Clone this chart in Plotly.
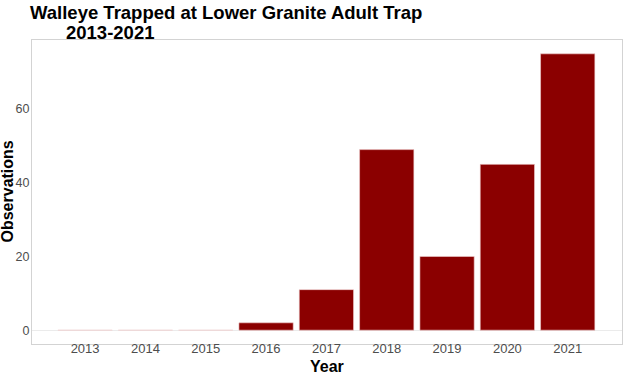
import plotly.graph_objects as go

years = ["2013", "2014", "2015", "2016", "2017", "2018", "2019", "2020", "2021"]
observations = [0, 0, 0, 2, 11, 49, 20, 45, 75]

title_line1 = "Walleye Trapped at Lower Granite Adult Trap"
title_line2 = "2013-2021"

fig = go.Figure()
fig.add_trace(go.Bar(
    x=years, y=observations,
    marker=dict(color="#8B0000", line=dict(color="#f0d0d0", width=0.6)),
    width=0.9,
))

fig.update_layout(
    width=624, height=374,
    margin=dict(l=32, r=2, t=40, b=30),
    paper_bgcolor="white", plot_bgcolor="white",
    showlegend=False,
    font=dict(family="Liberation Sans, Arial, sans-serif"),
    xaxis=dict(
        type="category", range=[-0.88, 8.9], automargin=False,
        showgrid=False, zeroline=False, ticks="", ticklabelstandoff=-8,
        tickfont=dict(size=13, color="#4d4d4d"),
        showline=True, linecolor="#d3d3d3", mirror=True, linewidth=1,
    ),
    yaxis=dict(
        range=[-3.75, 78.75], automargin=False,
        tickvals=[0, 20, 40, 60],
        showgrid=False, zeroline=True, zerolinecolor="#ebebeb", zerolinewidth=1,
        ticks="", ticklabelstandoff=-1,
        tickfont=dict(size=12.5, color="#4d4d4d"),
        showline=True, linecolor="#d3d3d3", mirror=True, linewidth=1,
    ),
    annotations=[
        dict(text=f"<b>{title_line1}</b>", xref="paper", yref="paper",
             x=-4/590, y=1 + 15/304, xanchor="left", yanchor="bottom",
             showarrow=False, font=dict(size=18.5, color="black")),
        dict(text=f"<b>{title_line2}</b>", xref="paper", yref="paper",
             x=32/590, y=1 - 5/304, xanchor="left", yanchor="bottom",
             showarrow=False, font=dict(size=18.5, color="black")),
        dict(text="<b>Year</b>", xref="paper", yref="paper",
             x=0.5, y=-12/304, xanchor="center", yanchor="top",
             showarrow=False, font=dict(size=16, color="black")),
        dict(text="<b>Observations</b>", xref="paper", yref="paper",
             x=-36/590, y=0.5, xanchor="left", yanchor="middle", textangle=-90,
             showarrow=False, font=dict(size=16, color="black")),
    ],
)

fig.write_html("out.html", config={"displayModeBar": False},
               post_script="document.body.style.margin='0';")
